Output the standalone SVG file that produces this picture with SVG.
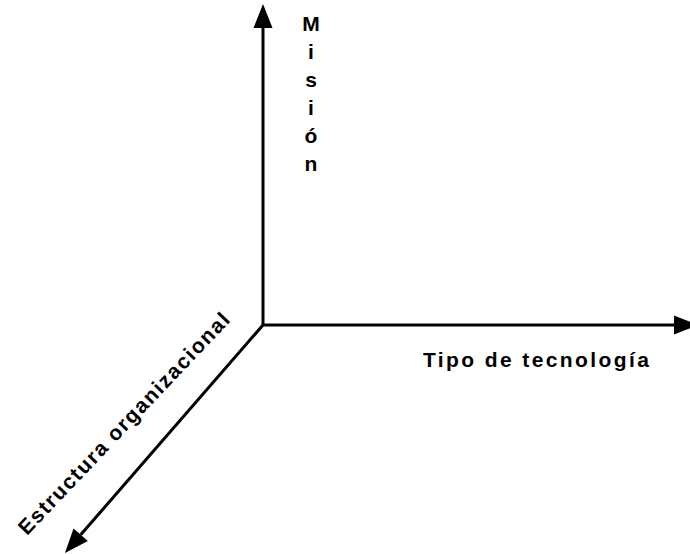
<svg xmlns="http://www.w3.org/2000/svg" width="690" height="554" viewBox="0 0 690 554">
<style>
.ax{stroke:#000;stroke-width:3;fill:none;marker-end:url(#ah)}
.lb{font-family:"Liberation Sans",Arial,sans-serif;font-weight:bold;font-size:21px;fill:#000}
</style>
<defs>
<marker id="ah" markerUnits="userSpaceOnUse" markerWidth="26" markerHeight="20" refX="0" refY="9.5" orient="auto" overflow="visible">
<path d="M0,0 L24,9.5 L0,19 z" fill="#000"/>
</marker>
</defs>
<rect width="690" height="554" fill="#fff"/>
<g id="connectors">
<line class="ax" x1="263" y1="325" x2="263" y2="28"/>
<line class="ax" x1="263" y1="325" x2="674" y2="325"/>
<line class="ax" x1="263" y1="325" x2="80.7" y2="534.8"/>
</g>
<g id="mision">
<text class="lb" text-anchor="middle" x="311" y="31">M</text>
<text class="lb" text-anchor="middle" x="311" y="59">i</text>
<text class="lb" text-anchor="middle" x="311" y="87">s</text>
<text class="lb" text-anchor="middle" x="311" y="115">i</text>
<text class="lb" text-anchor="middle" x="311" y="143">ó</text>
<text class="lb" text-anchor="middle" x="311" y="171">n</text>
</g>
<g id="tipo">
<text class="lb" x="423" y="367" letter-spacing="2.4">Tipo de tecnología</text>
</g>
<g id="estructura">
<text class="lb" x="27" y="536" letter-spacing="1.6" transform="rotate(-46.5 27 536)">Estructura organizacional</text>
</g>
</svg>
